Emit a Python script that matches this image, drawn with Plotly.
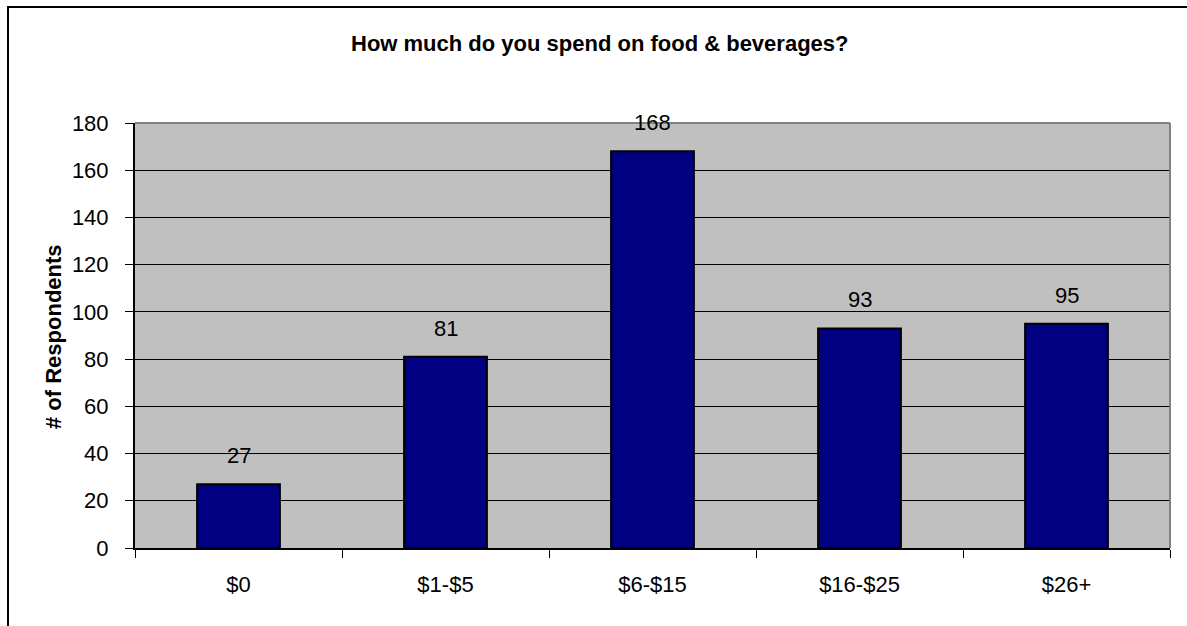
import plotly.graph_objects as go

# Survey results: spending on food & beverages
categories = ["$0", "$1-$5", "$6-$15", "$16-$25", "$26+"]
respondents = [27, 81, 168, 93, 95]
y_ticks = [0, 20, 40, 60, 80, 100, 120, 140, 160, 180]

FONT = "Liberation Sans, Arial, sans-serif"

W, H = 1187, 626
L, R, T, B = 135, 17, 123, 78
pw, ph = W - L - R, H - T - B

fig = go.Figure()
fig.add_trace(go.Bar(
    x=categories,
    y=respondents,
    marker=dict(color="#000080", line=dict(color="#000000", width=2)),
    width=0.4,
    hoverinfo="skip",
))

# value labels above each bar
for c, v in zip(categories, respondents):
    fig.add_annotation(
        x=c, y=v, text=str(v), showarrow=False,
        xanchor="center", yanchor="bottom", yshift=14,
        font=dict(family=FONT, size=22, color="#000000"),
    )

# y-axis title
fig.add_annotation(
    xref="paper", yref="paper",
    x=(53 - L) / pw, y=(H - B - 337) / ph,
    text="<b># of Respondents</b>", textangle=-90, showarrow=False,
    xanchor="center", yanchor="middle",
    font=dict(family=FONT, size=22, color="#000000"),
)

# chart title
fig.add_annotation(
    xref="paper", yref="paper",
    x=(599 - L) / pw, y=(H - B - 43) / ph,
    text="<b>How much do you spend on food & beverages?</b>", showarrow=False,
    xanchor="center", yanchor="middle",
    font=dict(family=FONT, size=22, color="#000000"),
)

# grey border on top and right of the plot area
fig.add_shape(type="line", xref="paper", yref="paper", x0=0, x1=1, y0=1, y1=1,
              line=dict(color="#808080", width=2), layer="above")
fig.add_shape(type="line", xref="paper", yref="paper", x0=1, x1=1, y0=0, y1=1,
              line=dict(color="#808080", width=2), layer="above")

# outer chart frame
fig.add_shape(type="rect", xref="paper", yref="paper",
              x0=(8 - L) / pw, x1=1.2,
              y0=-0.4, y1=(H - B - 7) / ph,
              line=dict(color="#000000", width=2), layer="below")

fig.update_layout(
    width=W, height=H,
    margin=dict(l=L, r=R, t=T, b=B),
    paper_bgcolor="#FFFFFF",
    plot_bgcolor="#C0C0C0",
    showlegend=False,
    bargap=0.6,
    font=dict(family=FONT, size=22, color="#000000"),
    xaxis=dict(
        type="category",
        showline=True, linecolor="#000000", linewidth=2,
        ticks="outside", ticklen=8, tickcolor="#000000", tickwidth=1,
        tickson="boundaries",
        showgrid=False,
        tickfont=dict(family=FONT, size=22),
        ticklabelstandoff=16,
    ),
    yaxis=dict(
        range=[0, 180],
        tickvals=y_ticks,
        showline=True, linecolor="#000000", linewidth=2,
        ticks="outside", ticklen=8, tickcolor="#000000", tickwidth=1,
        showgrid=True, gridcolor="#000000", gridwidth=1,
        zeroline=False,
        tickfont=dict(family=FONT, size=22),
        ticklabelstandoff=12,
    ),
)

fig.write_html("out.html")
